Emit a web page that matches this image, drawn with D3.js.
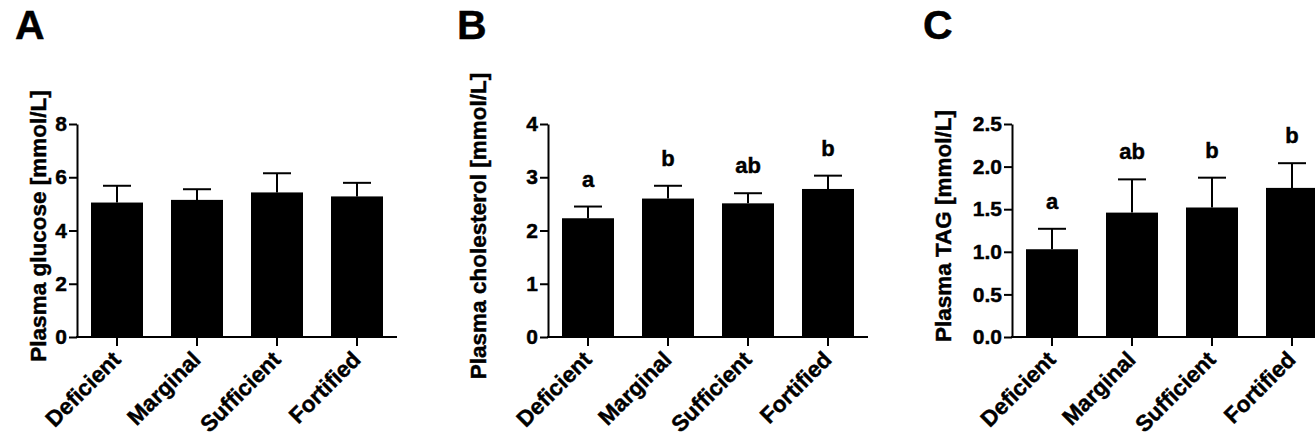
<!DOCTYPE html>
<html>
<head>
<meta charset="utf-8">
<script src="https://cdn.jsdelivr.net/npm/d3@7"></script>
<style>
  html, body { margin: 0; padding: 0; background: #fff; }
  svg { display: block; font-family: "Liberation Sans", Arial, sans-serif; font-weight: bold; }
  svg text { stroke: #000; stroke-width: 0.45px; }
</style>
</head>
<body>
<svg id="chart" width="1315" height="445"></svg>
<script>
// ---- data ----
const categories = ["Deficient", "Marginal", "Sufficient", "Fortified"];

const glucoseMean = [5.05, 5.15, 5.43, 5.28];
const glucoseSEM  = [0.63, 0.40, 0.72, 0.51];

const cholesterolMean = [2.23, 2.60, 2.51, 2.78];
const cholesterolSEM  = [0.22, 0.24, 0.19, 0.25];
const cholesterolLetters = ["a", "b", "ab", "b"];

const tagMean = [1.03, 1.46, 1.52, 1.75];
const tagSEM  = [0.24, 0.39, 0.35, 0.29];
const tagLetters = ["a", "ab", "b", "b"];

const glucoseTicks = [0, 2, 4, 6, 8];
const cholesterolTicks = [0, 1, 2, 3, 4];
const tagTicks = [0, 0.5, 1.0, 1.5, 2.0, 2.5];

const panelLetters = ["A", "B", "C"];
const yTitles = ["Plasma glucose [mmol/L]", "Plasma cholesterol [mmol/L]", "Plasma TAG [mmol/L]"];

// ---- layout ----
const svg = d3.select("#chart");
const yTop = 124, yBottom = 337;

const panels = [
  { letter: panelLetters[0], letterX: 15, axisX: 77, titleX: 38, title: yTitles[0],
    mean: glucoseMean, sem: glucoseSEM, letters: null, ticks: glucoseTicks, max: 8, fmt: d3.format("d") },
  { letter: panelLetters[1], letterX: 457, axisX: 548, titleX: 478, title: yTitles[1],
    mean: cholesterolMean, sem: cholesterolSEM, letters: cholesterolLetters, ticks: cholesterolTicks, max: 4, fmt: d3.format("d") },
  { letter: panelLetters[2], letterX: 923, axisX: 1012, titleX: 943, title: yTitles[2],
    mean: tagMean, sem: tagSEM, letters: tagLetters, ticks: tagTicks, max: 2.5, fmt: d3.format(".1f") }
];

panels.forEach(p => {
  const g = svg.append("g");
  const x = d3.scaleBand().domain(categories).range([p.axisX, p.axisX + 320]).paddingInner(0.35).paddingOuter(0.175);
  const y = d3.scaleLinear().domain([0, p.max]).range([yBottom, yTop]);

  // panel letter
  g.append("text").attr("x", p.letterX).attr("y", 39)
    .attr("font-size", 41).attr("fill", "#000").text(p.letter);

  // y title
  g.append("text")
    .attr("transform", `translate(${p.titleX},226) rotate(-90)`)
    .attr("text-anchor", "middle").attr("dy", "0.36em")
    .attr("font-size", 22.5).attr("fill", "#000").text(p.title);

  // bars
  const data = categories.map((c, i) => ({ c, m: p.mean[i], s: p.sem[i], l: p.letters ? p.letters[i] : null }));
  g.selectAll("rect.bar").data(data).join("rect")
    .attr("x", d => x(d.c)).attr("width", x.bandwidth())
    .attr("y", d => y(d.m)).attr("height", d => y(0) - y(d.m))
    .attr("fill", "#000");

  // error bars (upper only)
  const cx = d => x(d.c) + x.bandwidth() / 2;
  g.selectAll("line.err").data(data).join("line")
    .attr("x1", cx).attr("x2", cx)
    .attr("y1", d => y(d.m)).attr("y2", d => y(d.m + d.s))
    .attr("stroke", "#000").attr("stroke-width", 2);
  g.selectAll("line.cap").data(data).join("line")
    .attr("x1", d => cx(d) - 14).attr("x2", d => cx(d) + 14)
    .attr("y1", d => y(d.m + d.s)).attr("y2", d => y(d.m + d.s))
    .attr("stroke", "#000").attr("stroke-width", 2);

  // significance letters
  if (p.letters) {
    g.selectAll("text.sig").data(data).join("text")
      .attr("x", cx).attr("y", d => y(d.m + d.s) - 20)
      .attr("text-anchor", "middle").attr("font-size", 22).attr("fill", "#000")
      .text(d => d.l);
  }

  // y axis
  const yAxis = g.append("g").attr("transform", `translate(${p.axisX},0)`)
    .call(d3.axisLeft(y).tickValues(p.ticks).tickFormat(p.fmt).tickSize(8).tickSizeOuter(0).tickPadding(2));
  yAxis.selectAll("path, line").attr("stroke", "#000").attr("stroke-width", 2);
  yAxis.selectAll("text").attr("font-size", 21).attr("font-family", "Liberation Sans, Arial, sans-serif")
    .attr("font-weight", "bold").attr("fill", "#000");

  // x axis
  const xAxis = g.append("g").attr("transform", `translate(0,${yBottom})`)
    .call(d3.axisBottom(x).tickSize(9).tickSizeOuter(0).tickFormat(""));
  xAxis.select("path").attr("d", `M${p.axisX - 1},0H${p.axisX + 320}`);
  xAxis.selectAll("path, line").attr("stroke", "#000").attr("stroke-width", 2);

  // rotated x labels
  g.selectAll("text.xl").data(categories).join("text")
    .attr("transform", c => `translate(${x(c) + x.bandwidth() / 2 + 5},${yBottom + 24}) rotate(-45)`)
    .attr("text-anchor", "end").attr("font-size", 22.5).attr("fill", "#000")
    .text(c => c);
});
</script>
</body>
</html>
